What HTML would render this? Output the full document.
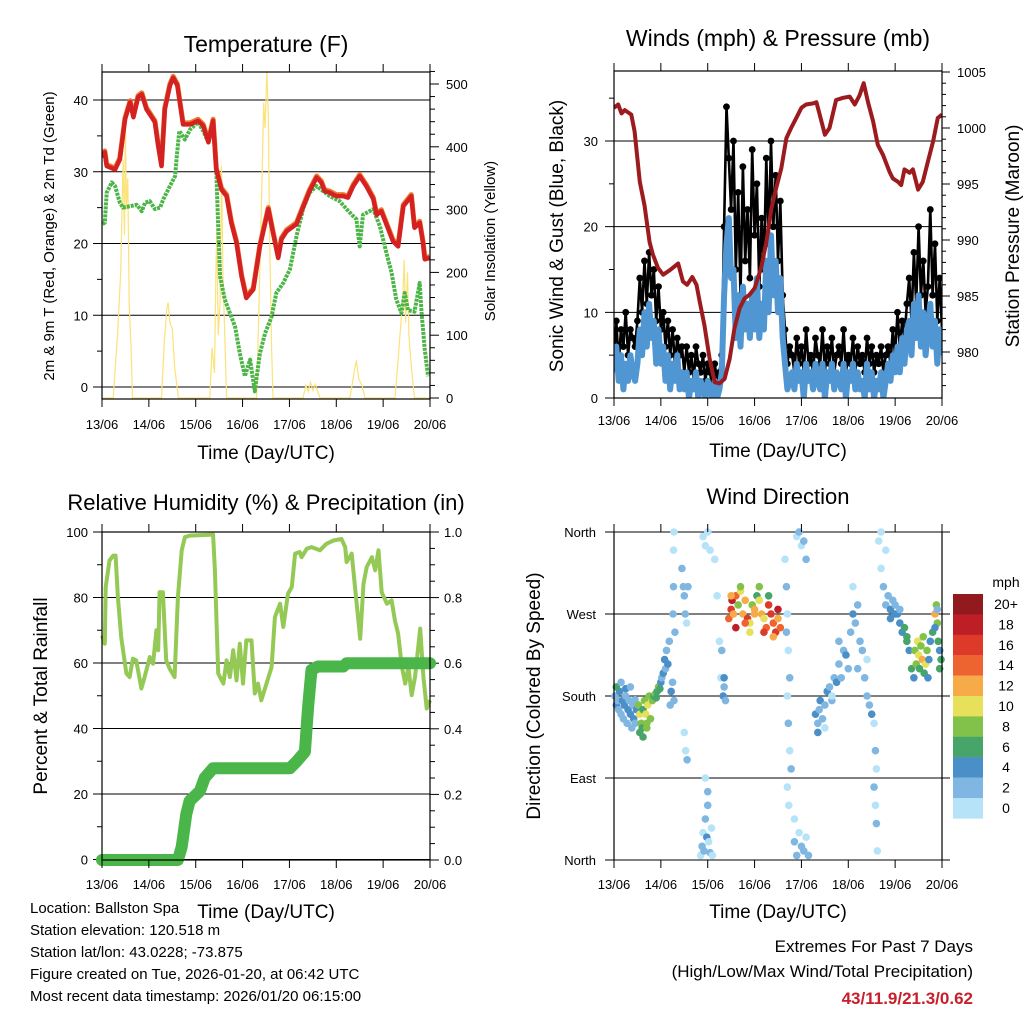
<!DOCTYPE html>
<html><head><meta charset="utf-8"><style>
html,body{margin:0;padding:0;background:#fff;}
svg{display:block;font-family:"Liberation Sans",sans-serif;}
</style></head><body>
<svg id="chart" width="1024" height="1024" viewBox="0 0 1024 1024" xmlns="http://www.w3.org/2000/svg">
<defs>
<clipPath id="c1"><rect x="102" y="72" width="328" height="327"/></clipPath>
<clipPath id="c2"><rect x="614" y="71" width="328" height="327"/></clipPath>
<clipPath id="c3"><rect x="95" y="525" width="342" height="342"/></clipPath>
<clipPath id="c4"><rect x="610" y="528" width="336" height="336"/></clipPath>
</defs>
<g id="g1"></g>
<g id="g2"></g>
<g id="g3"></g>
<g id="g4"></g>
<g font-size="15" fill="#000">
<text x="30" y="913">Location: Ballston Spa</text>
<text x="30" y="935">Station elevation: 120.518 m</text>
<text x="30" y="957">Station lat/lon: 43.0228; -73.875</text>
<text x="30" y="979">Figure created on Tue, 2026-01-20, at 06:42 UTC</text>
<text x="30" y="1001">Most recent data timestamp: 2026/01/20 06:15:00</text>
</g>
<g font-size="17" text-anchor="end">
<text x="973" y="952">Extremes For Past 7 Days</text>
<text x="973" y="977">(High/Low/Max Wind/Total Precipitation)</text>
<text x="973" y="1004" font-weight="bold" fill="#c8202a">43/11.9/21.3/0.62</text>
</g>
</svg>
<script>
const days=["13/06","14/06","15/06","16/06","17/06","18/06","19/06","20/06"];
// Temperature
const tempT=[0,.06,.10,.28,.38,.49,.60,.67,.77,.85,.95,1.06,1.13,1.20,1.27,1.34,1.45,1.52,1.61,1.66,1.73,1.88,2.05,2.16,2.27,2.37,2.44,2.55,2.66,2.76,2.87,2.98,3.08,3.23,3.37,3.55,3.65,3.76,3.83,3.94,4.15,4.29,4.43,4.58,4.68,4.75,4.86,5.00,5.15,5.25,5.36,5.50,5.64,5.79,5.86,5.96,6.11,6.21,6.32,6.43,6.60,6.67,6.78,6.85,6.89,6.99];
const tempV=[32.0,32.7,30.8,30.3,31.7,37.3,39.7,37.6,40.4,40.8,38.7,37.6,36.9,33.6,30.8,38.7,42.0,43.1,42.0,39.7,36.6,36.6,37.1,36.4,34.1,37.1,30.3,27.5,26.6,22.9,20.1,15.4,12.4,13.6,19.6,24.8,21.5,18.0,20.6,21.7,22.7,25.0,27.3,29.2,28.5,27.3,27.1,26.6,26.6,26.4,28.0,29.4,28.0,26.2,24.0,24.5,22.0,20.3,19.6,25.2,26.6,22.2,22.9,20.1,17.8,18.0];
const dewT=[.01,.06,.10,.21,.28,.38,.45,.60,.74,.85,.92,1.02,1.13,1.24,1.31,1.45,1.56,1.59,1.65,1.77,1.88,2.05,2.16,2.27,2.37,2.43,2.48,2.52,2.62,2.73,2.84,2.94,3.05,3.16,3.26,3.37,3.48,3.62,3.72,3.87,4.01,4.15,4.29,4.43,4.58,4.72,4.86,5.07,5.22,5.36,5.43,5.50,5.57,5.79,5.93,6.07,6.18,6.28,6.39,6.46,6.53,6.67,6.78,6.82,6.89,6.96];
const dewV=[22.7,22.9,27.1,28.5,28.0,25.7,25.0,25.2,25.4,24.5,25.7,25.9,24.8,25.0,26.2,28.0,29.4,31.7,35.7,34.5,35.9,36.9,35.7,34.1,37.1,31.7,22.4,15.4,12.2,10.3,8.4,4.7,1.5,3.8,-0.6,4.7,7.5,9.8,13.1,14.5,16.4,21.0,24.8,27.1,28.0,27.3,26.6,25.9,24.8,23.8,23.4,19.6,24.0,24.8,22.4,18.7,15.9,12.2,10.3,13.1,10.7,10.5,14.5,10.3,5.2,1.5];
const solT=[0,.24,.33,.40,.45,.48,.50,.52,.55,.58,.62,.65,1.27,1.33,1.38,1.41,1.45,1.50,1.55,1.63,2.30,2.35,2.40,2.43,2.45,2.48,2.52,2.55,2.58,2.62,2.66,3.30,3.35,3.40,3.45,3.48,3.52,3.55,3.58,3.62,3.65,4.29,4.35,4.40,4.45,4.50,4.55,4.65,5.29,5.38,5.43,5.48,5.55,5.61,6.25,6.32,6.38,6.42,6.45,6.48,6.52,6.55,6.60,6.67,7];
const solV=[0,0,100,200,380,260,440,300,350,150,80,0,0,90,140,152,120,110,50,0,0,80,40,200,270,100,150,370,200,100,0,0,150,300,470,430,520,450,250,80,0,0,20,10,25,12,22,0,0,40,60,30,20,0,0,60,120,160,220,120,200,100,50,0,0];
// Winds & pressure
const presT=[0,.09,.16,.23,.37,.44,.55,.65,.76,.83,.94,1.05,1.19,1.37,1.47,1.56,1.67,1.76,1.83,1.93,2.04,2.15,2.25,2.36,2.47,2.57,2.68,2.79,2.89,3.00,3.14,3.25,3.36,3.46,3.57,3.68,3.78,3.89,4.00,4.10,4.25,4.32,4.39,4.50,4.60,4.74,4.89,5.03,5.14,5.24,5.33,5.42,5.53,5.63,5.74,5.88,5.95,6.06,6.13,6.20,6.31,6.38,6.49,6.59,6.70,6.81,6.91,7];
const presV=[1001.8,1002.1,1001.3,1001.6,1001.2,999.7,995.2,993.1,989.8,988.7,987.5,986.9,987.3,987.9,986.3,986.0,986.7,986.0,984.5,982.4,979.4,977.3,977.2,977.6,979.4,982.1,983.9,984.8,985.1,985.7,987.5,989.8,992.8,994.6,996.4,999.1,1000.0,1000.9,1001.8,1002.1,1002.2,1002.3,1001.2,999.4,1000.0,1002.5,1002.7,1002.8,1002.1,1002.9,1004.0,1002.3,1000.6,998.5,997.6,996.1,995.5,995.2,994.9,996.3,996.0,996.3,994.5,995.2,997.0,998.8,1000.9,1001.2];
const gustV=[5,9,4,8,6,10,5,8,7,6,9, 14,10,16,11,17,12,15,9,13,8, 10,6,9,5,8,4,7,5,6,3, 6,3,5,2,6,4,3,5,2,4, 3,1,4,2,3,5, 20,34,28,22, 30,15,24,12,27,16,22,14, 29,19,25,13,21,15,28,18, 30,20,26,16,23,12, 8,4,6, 5,3,7,4,6,3,8,4,5,3,7,5,4,8,3,6,4,7,3,5,6,4,8,3,5,4,7,3,6,4,5,3,7,4,6,3,5,4,6,3,5, 6,4,8,5,10,6,9,7,11, 14,9,17,11,20,12,16,10,13, 22,12,18,9,14,8];
const windV=[3,6,2,5,1,4,2,5,3,2,4, 8,5,10,6,11,7,9,4,8,4, 6,2,5,1,4,2,5,1,3,1, 3,0,2,1,3,0,2,1,0,2, 1,0,2,0,1,3, 12,18,21,14, 15,7,12,6,13,8,11,7, 12,8,14,7,11,8,16,10, 19,12,16,10,14,7, 4,1,2, 3,1,4,2,3,0,4,2,3,1,4,2,1,4,0,3,2,4,1,3,2,1,4,0,3,2,4,1,3,1,2,0,4,1,3,0,2,1,3,0,2, 4,2,5,3,6,3,7,4,8, 9,5,11,7,12,6,10,5,8, 11,6,9,4,8,5];
// RH & precip
const rhT=[0,.06,.08,.16,.24,.29,.34,.41,.48,.52,.59,.66,.73,.84,.91,1.02,1.09,1.16,1.20,1.23,1.30,1.37,1.45,1.55,1.62,1.70,1.77,1.87,2.37,2.41,2.48,2.59,2.66,2.73,2.80,2.87,2.94,3.01,3.08,3.19,3.26,3.33,3.40,3.51,3.62,3.69,3.80,3.87,3.97,4.05,4.12,4.22,4.26,4.37,4.47,4.65,4.79,4.94,5.11,5.19,5.22,5.33,5.40,5.51,5.58,5.65,5.76,5.83,5.90,5.97,6.08,6.18,6.25,6.32,6.40,6.47,6.54,6.61,6.68,6.79,6.86,6.93,7.0];
const rhV=[68.4,65.9,83.2,91.3,92.8,92.8,80.1,67.9,60.8,56.8,55.7,61.3,60.8,52.2,55.7,61.8,59.8,70.0,63.9,81.6,81.6,60.8,58.1,55.7,80.1,94.4,98.4,98.9,99.2,88.3,56.8,53.7,60.8,55.7,63.9,54.7,65.9,53.7,66.9,66.9,50.7,53.7,48.6,53.7,58.8,74.0,78.1,71.0,81.2,83.2,93.4,93.9,92.3,94.9,95.4,94.4,96.4,97.4,97.9,95.4,90.8,93.4,83.2,67.4,84.2,89.3,92.3,88.3,94.4,81.6,78.1,79.1,73.0,69.0,58.8,53.7,58.8,50.2,55.7,70.5,55.7,46.1,48.6];
const prT=[0,1.62,1.70,1.80,1.87,2.09,2.19,2.37,2.59,4.01,4.15,4.33,4.40,4.47,4.61,5.15,5.22,7.0];
const prV=[0,0,.04,.14,.18,.21,.25,.28,.28,.28,.30,.33,.47,.58,.59,.59,.60,.60];
// Wind direction scatter
const dirT=[0.02,0.05,0.08,0.1,0.12,0.15,0.18,0.2,0.22,0.25,0.28,0.3,0.32,0.35,0.38,0.4,0.42,0.45,0.48,0.05,0.15,0.25,0.35,0.45,
0.52,0.55,0.58,0.6,0.62,0.65,0.68,0.7,0.72,0.75,0.78,0.55,0.62,0.7,
0.82,0.85,0.88,0.9,0.92,0.95,0.98,1.0,1.02,1.05,
1.08,1.1,1.12,1.15,1.18,1.2,1.22,1.25,1.28,1.27,1.27,1.28,1.26,1.3,
1.45,1.48,1.5,1.52,1.55,1.58,1.5,1.53,1.56,
1.85,1.88,1.9,1.92,1.95,1.98,2.0,2.02,2.05,2.08,2.1,1.9,1.95,2.0,2.05,1.95,2.0,
2.15,2.2,2.25,2.28,2.3,2.35,2.33,2.35,2.38,
2.45,2.5,2.52,2.55,2.6,2.65,2.7,2.75,2.8,2.85,2.9,2.95,3.0,3.05,3.1,3.15,3.2,3.25,3.3,3.35,3.4,3.45,3.5,3.55,2.5,2.7,2.9,3.1,3.3,3.5,2.6,2.8,3.0,3.2,3.4,
3.65,3.68,3.7,3.72,3.75,3.7,3.72,3.75,3.78,3.7,3.73,3.68,
3.85,3.9,3.95,4.0,4.05,4.1,4.15,3.9,3.95,4.0,4.05,4.1,3.85,
4.3,4.35,4.38,4.4,4.45,4.5,4.55,4.6,4.65,4.7,4.75,4.8,4.85,4.9,4.95,5.0,4.35,4.5,4.65,4.8,
5.05,5.1,5.15,5.2,5.25,5.3,5.1,5.2,
5.35,5.4,5.45,5.5,5.55,5.58,5.6,5.55,5.58,5.6,5.62,5.4,
5.65,5.7,5.75,5.8,5.85,5.9,5.95,6.0,5.7,5.8,5.9,6.0,
6.05,6.1,6.15,6.2,6.25,6.3,6.35,6.4,6.1,6.25,
6.42,6.45,6.48,6.5,6.52,6.55,6.58,6.6,6.62,6.65,6.68,6.7,
6.72,6.75,6.8,6.85,6.88,6.9,6.92,6.95,6.98,6.85,6.9,6.95];
const dirD=[180,170,175,165,185,160,175,155,170,180,150,165,175,160,145,170,155,150,165,190,195,188,190,176,
170,160,150,145,165,175,160,150,170,180,155,140,135,145,
175,180,182,178,185,190,188,195,200,205,
220,210,230,215,240,170,185,195,175,300,340,360,270,250,
320,300,290,270,260,300,140,120,110,
5,15,30,10,45,25,60,20,8,35,5,355,345,360,340,90,75,
330,290,240,200,230,190,180,200,175,
265,275,285,270,290,280,295,270,285,265,260,280,275,290,285,270,265,255,280,270,260,250,265,255,290,300,250,300,290,275,255,260,270,250,245,
330,300,270,230,200,180,150,120,100,80,60,250,
20,5,30,15,10,25,5,355,360,345,350,330,45,
160,150,165,175,155,170,185,190,175,200,195,215,200,230,225,210,140,145,180,240,
250,270,260,280,240,230,300,210,
200,180,170,160,150,120,100,80,60,40,10,220,
350,320,300,280,290,275,285,270,360,340,265,280,
270,260,250,255,240,230,210,200,275,245,
230,215,240,225,210,235,220,245,205,215,230,200,
220,240,250,270,280,260,240,230,220,255,275,210];
const dirS=[3,4,3,2,4,3,5,3,4,3,2,4,3,5,3,2,4,3,5,6,3,4,2,3,
9,10,8,7,6,9,10,8,11,9,8,6,7,8,
8,7,8,6,7,8,6,4,3,4,
4,3,3,4,3,3,4,3,2,2,1,1,2,2,
2,3,2,3,1,2,1,1,2,
1,2,1,3,2,4,2,1,3,1,0,1,1,0,1,1,2,
1,1,1,1,2,3,4,4,3,
14,17,19,12,15,8,10,12,13,16,11,9,12,7,10,13,11,15,17,16,15,17,12,14,12,8,10,9,6,18,18,14,12,16,13,
1,2,1,1,2,1,3,1,2,1,1,2,
2,3,1,2,3,1,2,1,2,1,3,2,1,
4,3,3,4,2,3,4,3,2,3,4,3,2,3,4,3,5,1,1,2,
3,4,2,3,2,3,1,2,
2,3,2,4,1,2,1,2,1,2,1,1,
1,1,2,3,3,4,3,4,1,1,5,3,
4,5,4,7,6,5,7,4,3,6,
8,9,10,11,7,9,12,8,6,10,8,5,
5,4,6,12,9,8,6,5,7,4,3,6];
const spdLabels=["20+","18","16","14","12","10","8","6","4","2","0"];
const spdColors=["#b6e3f8","#7fb7e2","#4a8fc7","#48a56a","#82c24a","#e6e05a","#f6aa48","#ee6430","#dd3a2a","#be1e26","#931a1c"];

const NS="http://www.w3.org/2000/svg";
function mk(parent,tag,attrs){const e=document.createElementNS(NS,tag);for(const k in attrs)e.setAttribute(k,attrs[k]);parent.appendChild(e);return e;}
function lin(d0,d1,p0,p1){return v=>p0+(v-d0)*(p1-p0)/(d1-d0);}
function txt(parent,x,y,s,size,anchor,extra){const e=mk(parent,'text',Object.assign({x:x,y:y,'font-size':size,'text-anchor':anchor||'middle'},extra||{}));e.textContent=s;return e;}
function pathOf(xs,ys,fx,fy){return xs.map((t,i)=>(i?'L':'M')+fx(t).toFixed(1)+','+fy(ys[i]).toFixed(1)).join('');}

function xAxis(g,x0,x1,yb,yt,labY){
  const fx=lin(0,7,x0,x1);
  days.forEach((d,i)=>{
    const e=mk(g,'line',{x1:fx(i),x2:fx(i),y1:yb,y2:yb+8,stroke:'#000','stroke-width':1});
    
    mk(g,'line',{x1:fx(i),x2:fx(i),y1:yt,y2:yt-8,stroke:'#000','stroke-width':1});
    const t=txt(g,fx(i),labY,d,13);
    
  });
}
function frame(g,x0,y0,x1,y1){const r=mk(g,'rect',{x:x0,y:y0,width:x1-x0,height:y1-y0,fill:'none',stroke:'#000','stroke-width':1.2});}

// ---------- Panel 1 ----------
(function(){
  const g=document.getElementById('g1');
  const fx=lin(0,7,102,430), fy=lin(0,40,387,100), fs=lin(0,500,398,84);
  const t=txt(g,266,52,'Temperature (F)',23);
  [0,10,20,30,40].forEach(v=>{mk(g,'line',{x1:93,x2:430,y1:fy(v),y2:fy(v),stroke:'#000','stroke-width':1});
    const l=txt(g,88,fy(v)+5,String(v),13,'end');});
  [5,15,25,35].forEach(v=>mk(g,'line',{x1:97,x2:102,y1:fy(v),y2:fy(v),stroke:'#000'}));
  for(let v=0;v<=520;v+=20){mk(g,'line',{x1:430,x2:v%100?435:439,y1:fs(v),y2:fs(v),stroke:'#000'});}
  [0,100,200,300,400,500].forEach(v=>{const l=txt(g,446,fs(v)+5,String(v),13,'start');});
  const c=mk(g,'g',{'clip-path':'url(#c1)'});
  const s=mk(c,'path',{d:pathOf(solT,solV,fx,fs),fill:'none',stroke:'#fbe27a','stroke-width':1.2});
  
  const d=mk(c,'path',{d:pathOf(dewT,dewV,fx,fy),fill:'none',stroke:'#4db548','stroke-width':4,'stroke-dasharray':'3 1','stroke-linejoin':'round'});
  
  const o=mk(c,'path',{d:pathOf(tempT,tempV,fx,fy),fill:'none',stroke:'#f07a30','stroke-width':5,'stroke-linejoin':'round',transform:'translate(0,-1.5)'});
  
  const r=mk(c,'path',{d:pathOf(tempT,tempV,fx,fy),fill:'none',stroke:'#d42222','stroke-width':4.5,'stroke-linejoin':'round'});
  
  frame(g,102,72,430,399);
  xAxis(g,102,430,399,72,429);
  const xl=txt(g,266,459,'Time (Day/UTC)',19);
  const yl=txt(g,0,0,'2m & 9m T (Red, Orange) & 2m Td (Green)',15,'middle',{transform:'translate(54,236) rotate(-90)'});
  const yr=txt(g,0,0,'Solar Insolation (Yellow)',15,'middle',{transform:'translate(495,241) rotate(-90)'});
})();

// ---------- Panel 2 ----------
(function(){
  const g=document.getElementById('g2');
  const fx=lin(0,7,614,942), fy=lin(0,30,398,141), fp=lin(980,1000,352,128);
  const t=txt(g,778,46,'Winds (mph) & Pressure (mb)',23);
  [0,10,20,30].forEach(v=>{mk(g,'line',{x1:605,x2:942,y1:fy(v),y2:fy(v),stroke:'#000'});
    const l=txt(g,598,fy(v)+5,String(v),13,'end');});
  [5,15,25,35].forEach(v=>mk(g,'line',{x1:609,x2:614,y1:fy(v),y2:fy(v),stroke:'#000'}));
  for(let v=977;v<=1005;v++){mk(g,'line',{x1:942,x2:v%5?946:950,y1:fp(v),y2:fp(v),stroke:'#000'});}
  [980,985,990,995,1000,1005].forEach(v=>{const l=txt(g,957,fp(v)+5,String(v),13,'start');});
  const c=mk(g,'g',{'clip-path':'url(#c2)'});
  const tt=gustV.map((v,i)=>i*0.05);
  const gl=mk(c,'path',{d:pathOf(tt,gustV,fx,fy),fill:'none',stroke:'#000','stroke-width':2.6,'stroke-linejoin':'round'});
  
  gustV.forEach((v,i)=>{const e=mk(c,'circle',{cx:fx(i*0.05),cy:fy(v),r:3.4,fill:'#000'});
    
    });
  const wl=mk(c,'path',{d:pathOf(windV.map((v,i)=>i*0.05),windV,fx,fy),fill:'none',stroke:'#4f96d2','stroke-width':6,'stroke-linejoin':'round'});
  
  const pl=mk(c,'path',{d:pathOf(presT,presV,fx,fp),fill:'none',stroke:'#9b1b1e','stroke-width':4,'stroke-linejoin':'round'});
  
  frame(g,614,71,942,398);
  xAxis(g,614,942,398,71,425);
  const xl=txt(g,778,457,'Time (Day/UTC)',19);
  const yl=txt(g,0,0,'Sonic Wind & Gust (Blue, Black)',19,'middle',{transform:'translate(563,236) rotate(-90)'});
  const yr=txt(g,0,0,'Station Pressure (Maroon)',19,'middle',{transform:'translate(1019,236) rotate(-90)'});
})();

// ---------- Panel 3 ----------
(function(){
  const g=document.getElementById('g3');
  const fx=lin(0,7,102,430), fy=lin(0,100,859.5,532), fp=lin(0,1,860,532);
  const t=txt(g,266,510,'Relative Humidity (%) & Precipitation (in)',22);
  [0,20,40,60,80,100].forEach(v=>{mk(g,'line',{x1:93,x2:430,y1:fy(v),y2:fy(v),stroke:'#000'});
    const l=txt(g,88,fy(v)+5,String(v),13,'end');});
  [10,30,50,70,90].forEach(v=>mk(g,'line',{x1:97,x2:102,y1:fy(v),y2:fy(v),stroke:'#000'}));
  for(let i=0;i<=20;i++){const v=i*0.05;mk(g,'line',{x1:430,x2:i%4?435:439,y1:fp(v),y2:fp(v),stroke:'#000'});}
  ["0.0","0.2","0.4","0.6","0.8","1.0"].forEach(s=>{const l=txt(g,444,fp(+s)+5,s,13,'start');});
  const c=mk(g,'g',{'clip-path':'url(#c3)'});
  const rl=mk(c,'path',{d:pathOf(rhT,rhV,fx,fy),fill:'none',stroke:'#95c955','stroke-width':4,'stroke-linejoin':'round'});
  
  const pr=mk(c,'path',{d:pathOf(prT,prV,fx,fp),fill:'none',stroke:'#4ab548','stroke-width':12,'stroke-linejoin':'round','stroke-linecap':'round'});
  
  frame(g,102,532,430,860);
  xAxis(g,102,430,860,532,889);
  const xl=txt(g,266,918,'Time (Day/UTC)',19);
  const yl=txt(g,0,0,'Percent & Total Rainfall',19,'middle',{transform:'translate(47,696) rotate(-90)'});
})();

// ---------- Panel 4 ----------
(function(){
  const g=document.getElementById('g4');
  const fx=lin(0,7,614,942), fy=lin(0,360,860,532);
  const t=txt(g,778,504,'Wind Direction',22);
  const dl=["North","East","South","West","North"];
  dl.forEach((s,i)=>{mk(g,'line',{x1:605,x2:950,y1:fy(i*90),y2:fy(i*90),stroke:'#000'});
    const l=txt(g,596,fy(i*90)+5,s,13,'end');});
  const c=mk(g,'g',{'clip-path':'url(#c4)'});
  dirT.forEach((tv,i)=>{const ci=Math.min(10,Math.floor(dirS[i]/2));
    const e=mk(c,'circle',{cx:fx(tv),cy:fy(dirD[i]),r:3.8,fill:spdColors[ci]});
    
    });
  mk(g,'line',{x1:614,x2:614,y1:532,y2:860,stroke:'#000','stroke-width':1.2});
  mk(g,'line',{x1:942,x2:942,y1:532,y2:860,stroke:'#000','stroke-width':1.2});
  xAxis(g,614,942,860,532,889);
  const xl=txt(g,778,918,'Time (Day/UTC)',19);
  const yl=txt(g,0,0,'Direction (Colored By Speed)',19,'middle',{transform:'translate(540,696) rotate(-90)'});
  const lg=mk(g,'g',{});
  const mt=txt(lg,1006,587,'mph',14);
  spdLabels.forEach((s,i)=>{const y=594+i*20.4;
    const r=mk(lg,'rect',{x:953,y:y,width:30,height:20.6,fill:spdColors[10-i]});
    
    const l=txt(lg,1006,y+15,s,14);});
})();
</script>
</body></html>
